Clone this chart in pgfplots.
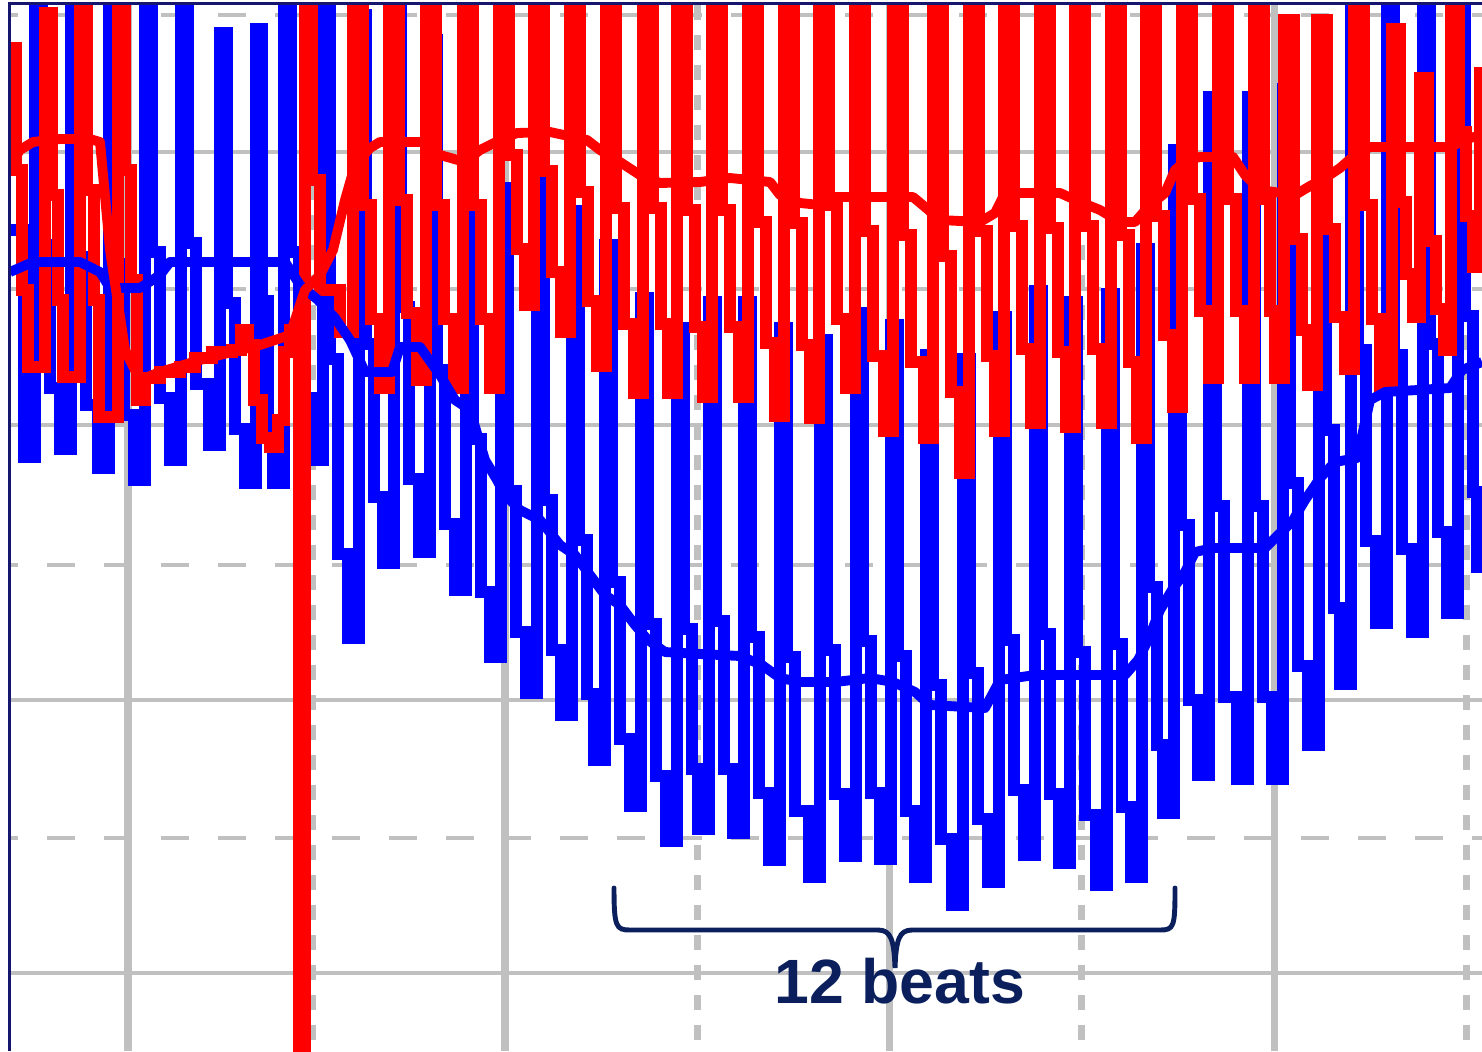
\documentclass[border=0pt]{standalone}
\usepackage{fontspec}
\setmainfont{Liberation Sans}
\usepackage{pgfplots}
\pgfplotsset{compat=1.18}

\definecolor{gridgray}{HTML}{C0C0C0}
\definecolor{navytxt}{HTML}{0A1F5C}
\definecolor{framecol}{HTML}{16166E}
\definecolor{bptblue}{HTML}{0000FF}
\definecolor{bptred}{HTML}{FF0000}

\begin{document}
\begin{tikzpicture}
\begin{axis}[
  at={(0,0)}, anchor=south west,
  scale only axis, width=14.72cm, height=10.46cm,
  xmin=10, xmax=1482, ymin=5, ymax=1051, y dir=reverse,
  axis line style={draw=none},
  xtick={128,505,889,1274}, ytick={152,425,700,973},
  extra x ticks={312,697,1081,1466}, extra y ticks={15,289,565,838},
  xticklabel={\vphantom{0}}, yticklabel={\vphantom{0}},
  major tick length=0pt,
  grid=major,
  x grid style={gridgray, line width=2pt},
  y grid style={gridgray, line width=1.1pt},
  extra x tick style={grid=major, xticklabel={\vphantom{0}},
    x grid style={gridgray, line width=2pt, dash pattern=on 1.5mm off 1.5mm}},
  extra y tick style={grid=major, yticklabel={\vphantom{0}},
    y grid style={gridgray, line width=1.1pt, dash pattern=on 2.8mm off 2.9mm, dash phase=2mm}},
  trace/.style={const plot mark left, line width=3.3pt, line join=miter, line cap=butt},
]
% blue trace: per beat rise to peak, fall to mid, fall to low, fall to trough
\addplot[bptblue, trace] coordinates {
(10,230) (24,457)
(35,-60) (42,245) (50,388) (60,449)
(71,-60) (78,257) (86,405) (98,468)
(109,-60) (116,264) (124,415) (134,480)
(145,-60) (152,252) (160,398) (170,460)
(181,-60) (188,243) (196,384) (209,445)
(220,33) (227,303) (235,429) (245,483)
(256,29) (262,301) (268,429) (273,483)
(284,-60) (291,252) (299,398) (312,460)
(323,-60) (330,359) (338,554) (348,638)
(359,15) (366,344) (374,497) (383,563)
(394,-60) (401,307) (409,479) (419,552)
(430,40) (437,370) (445,524) (455,590)
(466,112) (473,439) (481,592) (490,657)
(501,188) (508,491) (516,632) (526,693)
(537,177) (544,500) (552,650) (561,715)
(572,211) (579,540) (587,694) (594,760)
(605,245) (612,582) (620,739) (630,806)
(641,298) (648,624) (656,776) (666,841)
(677,328) (684,629) (692,769) (698,829)
(709,302) (716,621) (724,769) (733,833)
(744,302) (751,637) (759,793) (769,860)
(780,328) (787,657) (795,811) (809,877)
(820,340) (827,650) (835,794) (845,856)
(856,313) (863,641) (871,793) (880,859)
(891,325) (898,656) (906,811) (915,877)
(926,355) (933,685) (941,839) (952,905)
(963,359) (970,673) (978,819) (988,882)
(999,317) (1006,640) (1014,790) (1024,855)
(1035,291) (1042,634) (1050,794) (1059,863)
(1070,302) (1077,652) (1085,815) (1096,885)
(1107,294) (1114,644) (1122,807) (1131,877)
(1142,249) (1149,587) (1157,745) (1163,813)
(1174,150) (1181,525) (1189,700) (1198,775)
(1209,97) (1216,506) (1224,697) (1237,779)
(1248,97) (1255,506) (1263,697) (1272,779)
(1283,89) (1290,483) (1298,666) (1308,745)
(1319,48) (1326,430) (1334,608) (1340,684)
(1351,-60) (1358,350) (1366,541) (1376,623)
(1387,-60) (1394,355) (1402,549) (1412,632)
(1423,-60) (1430,344) (1438,532) (1447,613)
(1458,-60) (1465,316) (1473,492) (1477,567)
(1488,-60)
};
% red trace
\addplot[bptred, trace] coordinates {
(10,48) (16,170) (22,290) (28,367)
(45,13) (52,195) (58,300) (63,377)
(80,-40) (87,190) (94,300) (99,417)
(118,-50) (125,170) (131,280) (137,400)
(145,378) (160,372) (180,367) (195,358) (212,352) (232,350) (241,330)
(248,345) (254,400) (262,438) (270,447) (278,420) (284,352) (290,330)
(299,1100) (305,-70) (312,180) (320,290) (340,332)
(353,-70) (363,205) (371,319) (380,388)
(389,-70) (399,200) (407,313) (417,380)
(426,-70) (436,205) (444,319) (454,388)
(463,-70) (473,205) (481,319) (490,388)
(499,-70) (509,155) (517,249) (525,305)
(534,-70) (544,171) (552,272) (561,332)
(570,-70) (580,192) (588,301) (597,366)
(606,-70) (616,208) (624,324) (634,393)
(643,-70) (653,208) (661,324) (668,393)
(677,-70) (687,210) (695,327) (703,397)
(712,-70) (722,210) (730,327) (739,397)
(748,-70) (758,222) (766,343) (775,416)
(784,-70) (794,223) (802,345) (810,418)
(819,-70) (829,205) (837,319) (846,388)
(855,-70) (865,231) (873,356) (884,431)
(893,-70) (903,235) (911,362) (924,438)
(933,-70) (943,256) (951,392) (960,473)
(969,-70) (979,231) (987,356) (995,431)
(1004,-70) (1014,226) (1022,349) (1031,423)
(1040,-70) (1050,228) (1058,352) (1066,427)
(1075,-70) (1085,226) (1093,349) (1102,423)
(1111,-70) (1121,235) (1129,362) (1137,438)
(1146,-70) (1156,216) (1164,335) (1173,407)
(1182,-70) (1192,199) (1200,311) (1209,378)
(1218,-70) (1228,199) (1236,311) (1245,378)
(1254,-70) (1264,199) (1270,311) (1275,378)
(1284,20) (1294,239) (1302,330) (1308,385)
(1317,20) (1327,229) (1335,317) (1345,369)
(1354,-70) (1364,205) (1372,319) (1380,388)
(1392,29) (1400,202) (1406,274) (1413,317)
(1420,78) (1428,241) (1436,309) (1444,350)
(1451,-70) (1459,132) (1466,216) (1473,267)
(1480,67)
};
% blue mean
\addplot[bptblue, line width=2.8pt, line join=round] coordinates {
(10,272) (33,262) (80,262) (100,272) (110,288) (140,288) (160,275) (170,262)
(285,262) (300,285) (318,300) (335,318) (350,340) (365,372) (392,372) (400,347)
(420,347) (440,375) (455,400) (470,410) (485,460) (497,480) (505,495) (520,510)
(540,520) (560,545) (575,555) (590,575) (605,595) (620,605) (635,625) (648,640)
(665,652) (700,654) (740,656) (762,665) (780,678) (800,682) (835,682) (870,678)
(893,682) (915,692) (930,705) (985,708) (1000,680) (1035,675) (1125,675)
(1138,660) (1148,640) (1160,610) (1172,590) (1185,572) (1195,552) (1213,548)
(1265,548) (1278,535) (1292,522) (1305,500) (1320,478) (1335,462) (1357,458)
(1370,400) (1385,392) (1450,388) (1462,370) (1482,362)
};
% red mean
\addplot[bptred, line width=2.8pt, line join=round] coordinates {
(10,165) (20,150) (33,142) (60,139) (90,139) (100,142) (110,250) (125,350)
(140,380) (160,372) (200,360) (240,350) (260,345) (290,335) (305,290) (320,275)
(333,250) (345,200) (355,165) (370,148) (380,142) (430,142) (440,155) (465,162)
(480,150) (500,140) (517,133) (550,132) (587,140) (600,150) (620,162) (640,175)
(660,183) (700,182) (730,178) (770,182) (780,195) (800,203) (820,205) (830,197)
(913,197) (925,207) (940,220) (980,222) (995,213) (1005,193) (1060,193)
(1080,202) (1100,210) (1120,222) (1135,222) (1150,205) (1165,193) (1175,170)
(1187,160) (1200,157) (1233,157) (1245,175) (1260,190) (1295,195) (1310,186)
(1325,178) (1340,168) (1355,155) (1370,147) (1450,147) (1470,138) (1482,135)
};
% brace and label
\draw[navytxt, line width=1.4pt, line cap=round]
  (axis cs:614,888) .. controls (axis cs:614,927) and (axis cs:616,930) .. (axis cs:630,930)
  -- (axis cs:878,930) .. controls (axis cs:891,930) and (axis cs:894,940) .. (axis cs:895,968)
  .. controls (axis cs:896,940) and (axis cs:899,930) .. (axis cs:912,930)
  -- (axis cs:1160,930) .. controls (axis cs:1174,930) and (axis cs:1175,927) .. (axis cs:1175,888);
\node[anchor=base, text=navytxt, font=\bfseries\fontsize{17.8}{20}\selectfont, inner sep=0pt]
  at (axis cs:900,1003) {12 beats};
\end{axis}
\draw[framecol, line width=0.9pt] (-0.005cm,0) -- (-0.005cm,10.475cm) -- (14.72cm,10.475cm);
\pgfresetboundingbox
\path[use as bounding box] (-0.1cm,0) rectangle (14.72cm,10.51cm);
\end{tikzpicture}
\end{document}
